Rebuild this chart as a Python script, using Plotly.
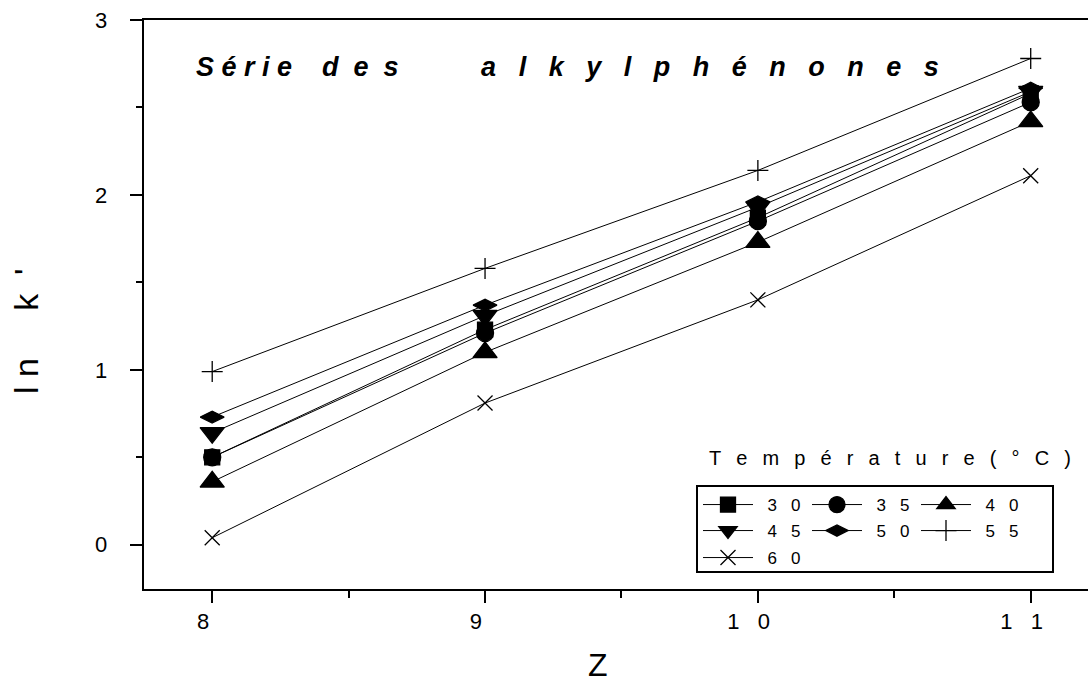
import plotly.graph_objects as go

# Carbon number of the alkyl chain
z = [8, 9, 10, 11]

# ln k' for each column temperature (°C)
lnk_30 = [0.50, 1.23, 1.87, 2.58]
lnk_35 = [0.50, 1.21, 1.85, 2.53]
lnk_40 = [0.36, 1.10, 1.73, 2.42]
lnk_45 = [0.64, 1.31, 1.93, 2.59]
lnk_50 = [0.73, 1.37, 1.96, 2.61]
lnk_55 = [0.99, 1.58, 2.14, 2.78]
lnk_60 = [0.04, 0.81, 1.40, 2.11]

temperatures = ["30", "35", "40", "45", "50", "55", "60"]
x_ticks = [8, 9, 10, 11]
y_ticks = [0, 1, 2, 3]

NB = "\u00a0"
THIN = "\u2009"
FONT = "Liberation Sans, Arial, sans-serif"


def spaced(s, gap=3, trailing=False, sep=None):
    sep = NB * gap if sep is None else sep
    out = sep.join(s)
    return out + sep if trailing else out


series = [
    (lnk_30, "square", 15, "legend"),
    (lnk_35, "circle", 17, "legend"),
    (lnk_40, "triangle-up", 21, "legend"),
    (lnk_45, "triangle-down", 21, "legend2"),
    (lnk_50, "diamond-wide", 17, "legend2"),
    (lnk_55, "cross-thin", 15, "legend2"),
    (lnk_60, "x-thin", 15, "legend3"),
]

fig = go.Figure()
for (vals, sym, size, leg), t in zip(series, temperatures):
    fig.add_trace(go.Scatter(
        x=z, y=vals, mode="lines+markers", name=NB * 2 + spaced(t),
        line=dict(color="black", width=1),
        marker=dict(symbol=sym, size=size, color="black",
                    line=dict(color="black", width=1.3)),
        legend=leg,
    ))

L, T, W, H = 144, 20, 944, 569


def px_x(p):
    return (p - L) / W


def px_y(p):
    return (T + H - p) / H


leg_common = dict(orientation="h", xanchor="left", yanchor="middle",
                  bgcolor="rgba(0,0,0,0)", borderwidth=0,
                  font=dict(family=FONT, size=17, color="black"),
                  itemwidth=50, entrywidth=44, entrywidthmode="pixels",
                  traceorder="normal")

title_text = (spaced("Série", 1) + NB * 4 + spaced("des", 2) + NB * 11
              + spaced("alkylphénones", 3))
legend_title = spaced("Température", sep=NB * 2 + THIN) + NB * 2 + THIN \
    + spaced("(°C)", sep=NB * 2 + THIN)

fig.update_layout(
    width=1088, height=683,
    margin=dict(l=L, r=0, t=T, b=683 - T - H),
    paper_bgcolor="white", plot_bgcolor="white",
    font=dict(family=FONT, color="black"),
    showlegend=True,
    legend=dict(x=px_x(698), y=px_y(505), **leg_common),
    legend2=dict(x=px_x(698), y=px_y(531), **leg_common),
    legend3=dict(x=px_x(698), y=px_y(558), **leg_common),
    xaxis=dict(
        range=[7.75, 11.21], showgrid=False, zeroline=False,
        showline=True, linecolor="black", linewidth=2, mirror=True,
        ticks="outside", ticklen=12, tickwidth=2, tickcolor="black",
        tickvals=x_ticks, ticktext=[spaced(str(v), trailing=True) for v in x_ticks],
        tickfont=dict(family=FONT, size=22, color="black"),
        minor=dict(tickvals=[8.5, 9.5, 10.5], ticks="outside", ticklen=7,
                   tickwidth=2, tickcolor="black"),
    ),
    yaxis=dict(
        range=[-0.253, 3.0], showgrid=False, zeroline=False,
        showline=True, linecolor="black", linewidth=2,
        ticks="outside", ticklen=12, tickwidth=2, tickcolor="black",
        tickvals=y_ticks, ticktext=[spaced(str(v), trailing=True) for v in y_ticks],
        tickfont=dict(family=FONT, size=22, color="black"),
        minor=dict(tickvals=[0.5, 1.5, 2.5], ticks="outside", ticklen=6,
                   tickwidth=2, tickcolor="black"),
    ),
    shapes=[dict(type="rect", xref="paper", yref="paper",
                 x0=px_x(697), x1=px_x(1053), y0=px_y(572), y1=px_y(486),
                 line=dict(color="black", width=2), fillcolor="rgba(0,0,0,0)")],
    annotations=[
        dict(text=title_text,
             xref="paper", yref="paper", x=px_x(194), y=px_y(67),
             xanchor="left", yanchor="middle", showarrow=False,
             font=dict(family=FONT, size=27, color="black", weight="bold",
                       style="italic")),
        dict(text=legend_title,
             xref="paper", yref="paper", x=px_x(890), y=px_y(458),
             xanchor="center", yanchor="middle", showarrow=False,
             font=dict(family=FONT, size=20, color="black")),
        dict(text="Z", xref="paper", yref="paper", x=px_x(598), y=px_y(665),
             xanchor="center", yanchor="middle", showarrow=False,
             font=dict(family=FONT, size=32, color="black")),
        dict(text="l" + NB + "n" + NB * 5 + "k" + NB * 2 + "'",
             xref="paper", yref="paper", x=px_x(26), y=px_y(331),
             xanchor="center", yanchor="middle", showarrow=False, textangle=-90,
             font=dict(family=FONT, size=34, color="black")),
    ],
)

fig.write_html("out.html")
